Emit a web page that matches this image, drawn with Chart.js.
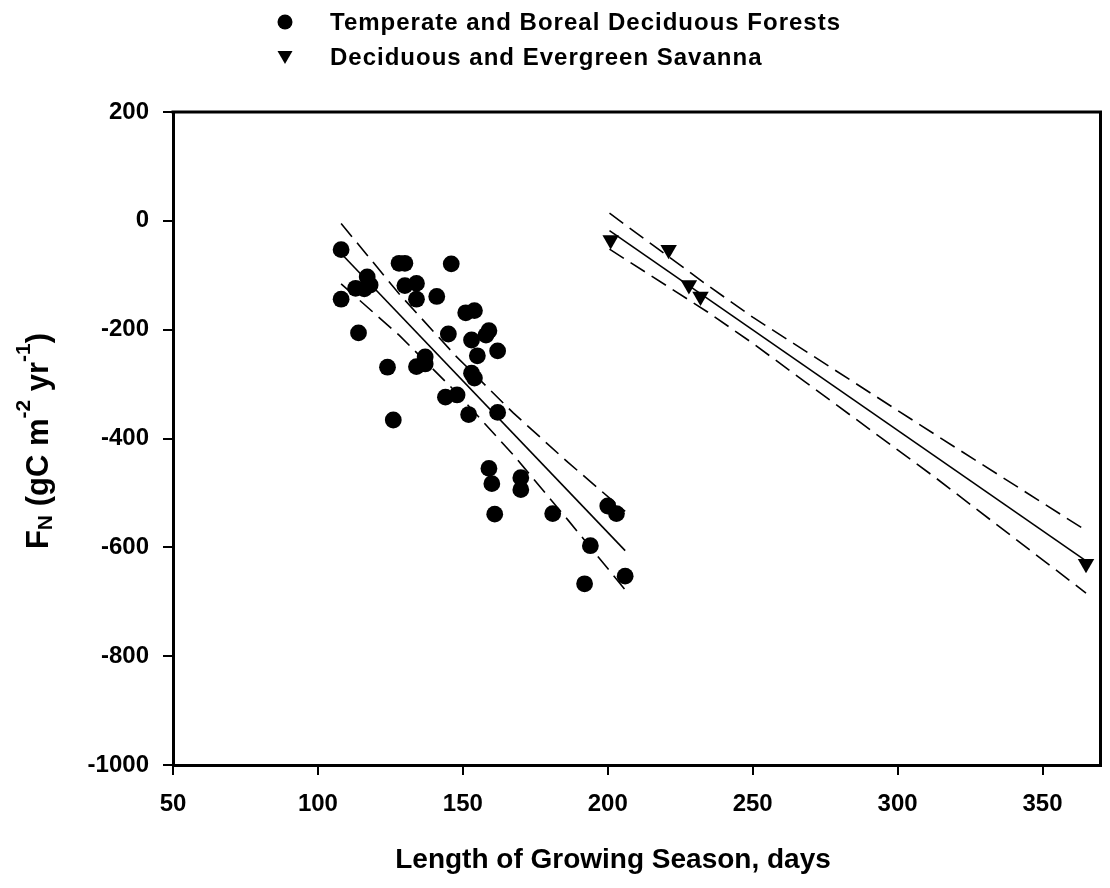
<!DOCTYPE html>
<html>
<head>
<meta charset="utf-8">
<script src="https://cdn.jsdelivr.net/npm/chart.js@4.4.1/dist/chart.umd.min.js"></script>
<style>
  html, body { margin: 0; padding: 0; background: #fff; overflow: hidden; }
  canvas { display: block; }
</style>
</head>
<body>
<canvas id="c" width="1110" height="888"></canvas>
<script>
// Series names (legend)
const seriesNames = ['Temperate and Boreal Deciduous Forests', 'Deciduous and Evergreen Savanna'];

// Temperate and boreal deciduous forest sites: growing season length (days) and net flux
const forestDays = [108, 108, 113, 117, 116, 118, 114, 128, 130, 130, 134, 134, 141, 146, 124,
                    126, 134, 137, 137, 145, 151, 154, 153, 159, 158, 155, 162, 153, 154, 144,
                    148, 152, 162, 159, 160, 170, 170, 161, 181, 200, 203, 194, 192, 206];
const forestFlux = [-53, -144, -124, -103, -125, -118, -206, -78, -78, -119, -115, -144, -139, -79, -269,
                    -366, -268, -250, -263, -208, -169, -165, -219, -202, -210, -248, -239, -280, -289, -324,
                    -320, -356, -352, -455, -483, -472, -494, -539, -538, -524, -538, -597, -667, -653];

// Deciduous and evergreen savanna sites
const savannaDays = [201, 221, 228, 232, 365];
const savannaFlux = [-35, -53, -118, -139, -630];

// Regression lines (end points) and 95% confidence bands
const forestFitDays = [108, 206];
const forestFitFlux = [-60, -606];
const forestBandDays = [108, 128, 147.5, 167.4, 186.3, 206];
const forestUpper = [-5, -134, -248, -353, -444, -534];
const forestLower = [-116, -210, -314, -430, -550, -678];

const savannaFitDays = [200.6, 365];
const savannaFitFlux = [-18, -625];
const savannaBandDays = [200.6, 234.3, 250, 313.3, 365];
const savannaUpper = [14, -118, -177, -394, -569];
const savannaLower = [-52, -167, -225, -473, -684];

// Axis ticks and titles
const xTicks = [50, 100, 150, 200, 250, 300, 350];
const yTicks = [200, 0, -200, -400, -600, -800, -1000];
const xTitle = 'Length of Growing Season, days';
const yTitleParts = [
  { t: 'F', size: 31, dy: 0 },
  { t: 'N', size: 21, dy: 4 },
  { t: ' (gC m', size: 31, dy: 0 },
  { t: '-2', size: 21, dy: -18 },
  { t: ' yr', size: 31, dy: 0 },
  { t: '-1', size: 21, dy: -18 },
  { t: ')', size: 31, dy: 0 }
];

const FONT = '"Liberation Sans", Arial, Helvetica, sans-serif';
const pts = (xs, ys) => xs.map((x, i) => ({ x: x, y: ys[i] }));

function lineSet(xs, ys, dashed) {
  return {
    data: pts(xs, ys),
    showLine: true,
    pointRadius: 0,
    borderColor: '#000',
    borderWidth: 1.6,
    borderDash: dashed ? [17, 8] : [],
    fill: false
  };
}

// Frame, legend and axis titles
const decorations = {
  id: 'decorations',
  afterDraw(chart) {
    const { ctx, chartArea: a } = chart;
    ctx.save();
    ctx.strokeStyle = '#000';
    ctx.lineWidth = 3;
    ctx.beginPath();
    ctx.moveTo(a.left - 1.5, a.top);
    ctx.lineTo(a.right, a.top);
    ctx.lineTo(a.right, a.bottom + 1.5);
    ctx.stroke();

    // legend
    ctx.fillStyle = '#000';
    const mx = 285, tx = 330, rows = [22, 57];
    ctx.beginPath();
    ctx.arc(mx, rows[0], 7.5, 0, Math.PI * 2);
    ctx.fill();
    ctx.beginPath();
    ctx.moveTo(mx - 7.5, rows[1] - 6);
    ctx.lineTo(mx + 7.5, rows[1] - 6);
    ctx.lineTo(mx, rows[1] + 7);
    ctx.closePath();
    ctx.fill();
    ctx.font = 'bold 24px ' + FONT;
    if ('letterSpacing' in ctx) ctx.letterSpacing = '1px';
    ctx.textAlign = 'left';
    ctx.textBaseline = 'middle';
    ctx.fillText(seriesNames[0], tx, rows[0] + 1);
    ctx.fillText(seriesNames[1], tx, rows[1] + 1);
    if ('letterSpacing' in ctx) ctx.letterSpacing = '0px';

    // x title
    ctx.font = 'bold 28px ' + FONT;
    ctx.textAlign = 'center';
    ctx.textBaseline = 'alphabetic';
    ctx.fillText(xTitle, 613, 868);

    // y title with subscript / superscripts
    let total = 0;
    yTitleParts.forEach(p => {
      ctx.font = 'bold ' + p.size + 'px ' + FONT;
      p.w = ctx.measureText(p.t).width;
      total += p.w;
    });
    ctx.translate(48, 441);
    ctx.rotate(-Math.PI / 2);
    ctx.textAlign = 'left';
    let x = -total / 2;
    yTitleParts.forEach(p => {
      ctx.font = 'bold ' + p.size + 'px ' + FONT;
      ctx.fillText(p.t, x, p.dy);
      x += p.w;
    });
    ctx.restore();
  }
};

const tickFont = { family: FONT, size: 24, weight: 'bold' };

new Chart(document.getElementById('c'), {
  type: 'scatter',
  data: {
    datasets: [
      {
        label: seriesNames[0],
        data: pts(forestDays, forestFlux),
        pointStyle: 'circle',
        pointRadius: 8.4,
        backgroundColor: '#000',
        borderColor: '#000',
        borderWidth: 0
      },
      {
        label: seriesNames[1],
        data: pts(savannaDays, savannaFlux),
        pointStyle: 'triangle',
        rotation: 180,
        pointRadius: 9.5,
        backgroundColor: '#000',
        borderColor: '#000',
        borderWidth: 0
      },
      lineSet(forestFitDays, forestFitFlux, false),
      lineSet(forestBandDays, forestUpper, true),
      lineSet(forestBandDays, forestLower, true),
      lineSet(savannaFitDays, savannaFitFlux, false),
      lineSet(savannaBandDays, savannaUpper, true),
      lineSet(savannaBandDays, savannaLower, true)
    ]
  },
  options: {
    responsive: false,
    animation: false,
    events: [],
    layout: { padding: { top: 112, right: 5, left: 0, bottom: 0 } },
    plugins: { legend: { display: false }, tooltip: { enabled: false } },
    scales: {
      x: {
        type: 'linear',
        min: 50,
        max: 370,
        afterBuildTicks: s => { s.ticks = xTicks.map(v => ({ value: v })); },
        afterFit: s => { s.height = 123; s.paddingLeft = 0; s.paddingRight = 0; },
        ticks: { font: tickFont, color: '#000', padding: 15, maxRotation: 0, callback: v => String(v) },
        grid: { drawOnChartArea: false, drawTicks: true, tickLength: 10, color: '#000', lineWidth: 2 },
        border: { display: true, color: '#000', width: 3 }
      },
      y: {
        type: 'linear',
        min: -1000,
        max: 200,
        afterBuildTicks: s => { s.ticks = yTicks.map(v => ({ value: v })); },
        afterFit: s => { s.width = 173; s.paddingTop = 0; s.paddingBottom = 0; },
        ticks: { font: tickFont, color: '#000', padding: 14, callback: v => String(v) },
        grid: { drawOnChartArea: false, drawTicks: true, tickLength: 10, color: '#000', lineWidth: 2 },
        border: { display: true, color: '#000', width: 3 }
      }
    }
  },
  plugins: [decorations]
});
</script>
</body>
</html>
